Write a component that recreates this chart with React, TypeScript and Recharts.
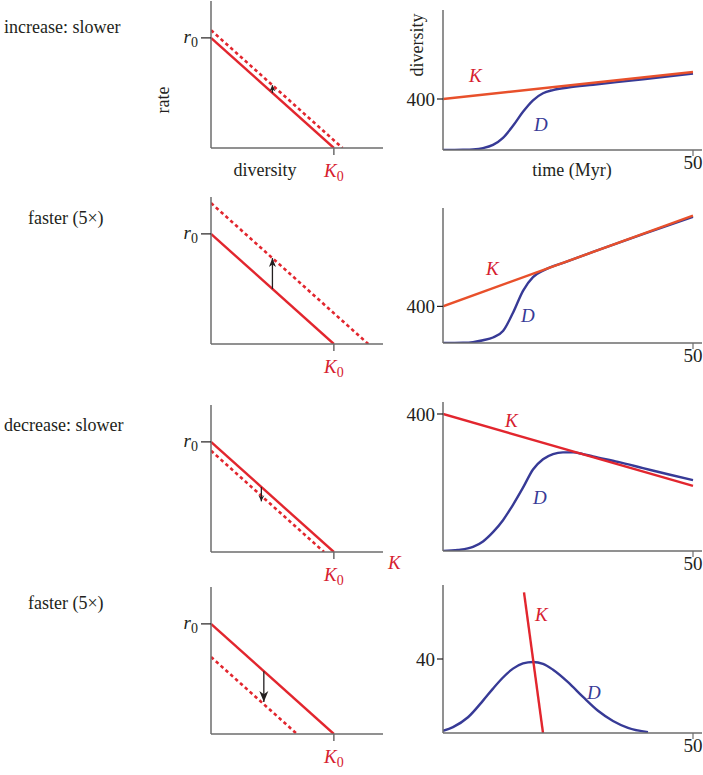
import { Line, LineChart, XAxis, YAxis } from 'recharts'

// left column: rate vs diversity (r0 = 1, K0 = 1)
const r0 = 1
const K0 = 1
const shifted = [1.07, 1.28, 0.92, 0.7]
const arrowAt = [0.5, 0.5, 0.41, 0.43]
const arrowFrom = [0.5, 0.5, 0.59, 0.57]
const arrowTo = [0.57, 0.78, 0.46, 0.29]
const scenarios = ['increase: slower', 'faster (5×)', 'decrease: slower', 'faster (5×)']

// right column: diversity through time
const kTimes = [[0, 50], [0, 50], [0, 50], [16.2, 20]]
const kValues = [[400, 612], [400, 1391], [400, 190], [76, 0]]
const yMax = [1098, 1475, 435, 80]
const yTick = [400, 400, 400, 40]

const dTime1 = [0, 4, 6, 8, 10, 12, 14, 16, 18, 20, 22, 25, 30, 40, 50]
const dValue1 = [0, 2, 5, 15, 40, 95, 190, 300, 390, 445, 470, 490, 512, 555, 600]
const dTime2 = [0, 4, 6, 8, 10, 12, 14, 16, 18, 20, 25, 30, 40, 50]
const dValue2 = [0, 3, 10, 30, 60, 130, 330, 570, 720, 790, 895, 995, 1190, 1378]
const dTime3 = [0, 3, 6, 8, 10, 12, 14, 16, 18, 20, 22, 24, 26, 28, 30, 35, 40, 45, 50]
const dValue3 = [0, 3, 12, 28, 55, 90, 135, 185, 238, 268, 283, 288, 288, 283, 276, 260, 242, 224, 207]
const dTime4 = [0, 2, 5, 8, 10, 12, 14, 16, 18, 20, 22, 25, 28, 31, 34, 37, 41]
const dValue4 = [1.2, 3.2, 8.5, 17.5, 24, 30, 34.8, 37.6, 38.4, 37.4, 34.2, 27.5, 19.5, 12, 6.5, 2.8, 0.5]
const dTimes = [dTime1, dTime2, dTime3, dTime4]
const dValues = [dValue1, dValue2, dValue3, dValue4]

const SERIF = "'Liberation Serif', 'DejaVu Serif', serif"
const INK = '#231f20'
const AXIS = '#6d6d6d'
const RED = '#e2262e'
const ORANGE = '#e8502b'
const BLUE = '#373a96'
const LABEL_RED = '#d6202f'

const leftTop = [1, 197, 405, 587]
const rightTop = [10, 208, 402, 585]
const rightHeight = [140, 135, 149, 148]
const headSize = [[3, 6], [3.5, 9], [3, 6], [4.5, 11]]

function Lbl({ x, y, color = INK, italic = false, size = 18, children }: any) {
  return (
    <div
      style={{
        position: 'absolute',
        left: x,
        top: y,
        transform: 'translate(0, -50%)',
        fontFamily: SERIF,
        fontSize: size,
        fontStyle: italic ? 'italic' : 'normal',
        color,
        lineHeight: 1,
        whiteSpace: 'nowrap',
      }}
    >
      {children}
    </div>
  )
}

function R0Tick(p: any) {
  return (
    <text x={p.x - 1} y={p.y + 5} textAnchor="end" fontFamily={SERIF} fontSize={19} fill={INK}>
      <tspan fontStyle="italic">r</tspan>
      <tspan dy={4} fontSize={14}>0</tspan>
    </text>
  )
}

function K0Tick(p: any) {
  return (
    <text x={p.x} y={p.y + 20} textAnchor="middle" fontFamily={SERIF} fontSize={19} fill={LABEL_RED}>
      <tspan fontStyle="italic">K</tspan>
      <tspan dy={4} fontSize={14}>0</tspan>
    </text>
  )
}

function RatePanel({ i }: { i: number }) {
  const top = leftTop[i]
  const solid = [{ d: 0, rate: r0 }, { d: K0, rate: 0 }]
  const dashed = [{ d: 0, rate: shifted[i] }, { d: shifted[i], rate: 0 }]
  const arrow = [{ d: arrowAt[i], rate: arrowFrom[i] }, { d: arrowAt[i], rate: arrowTo[i] }]
  const up = arrowTo[i] > arrowFrom[i]
  const [hw, hh] = headSize[i]
  const head = (p: any) => {
    if (p.index !== 1) return <g key={p.index} />
    const dir = up ? 1 : -1
    return (
      <path
        key={p.index}
        d={`M${p.cx},${p.cy} L${p.cx - hw},${p.cy + dir * hh} L${p.cx},${p.cy + dir * hh * 0.7} L${p.cx + hw},${p.cy + dir * hh} Z`}
        fill={INK}
      />
    )
  }
  return (
    <div style={{ position: 'absolute', left: 140, top: top - 10 }}>
      <LineChart width={250} height={197} margin={{ top: 10, right: 7, bottom: 10, left: 0 }}>
        <XAxis
          type="number"
          dataKey="d"
          height={30}
          domain={[0, 1.4]}
          ticks={[K0]}
          interval={0}
          allowDataOverflow
          tickSize={7}
          axisLine={{ stroke: AXIS, strokeWidth: 1.5 }}
          tickLine={{ stroke: AXIS, strokeWidth: 1.5 }}
          tick={<K0Tick />}
        />
        <YAxis
          type="number"
          width={71}
          domain={[0, 1.335]}
          ticks={[r0]}
          interval={0}
          allowDataOverflow
          tickSize={10}
          axisLine={{ stroke: AXIS, strokeWidth: 1.5 }}
          tickLine={{ stroke: INK, strokeWidth: 1.2 }}
          tick={<R0Tick />}
        />
        <Line data={dashed} dataKey="rate" type="linear" stroke={RED} strokeWidth={2.6} strokeDasharray="3.5 3" dot={false} isAnimationActive={false} />
        <Line data={solid} dataKey="rate" type="linear" stroke={RED} strokeWidth={2.4} dot={false} isAnimationActive={false} />
        <Line data={arrow} dataKey="rate" type="linear" stroke={INK} strokeWidth={1.3} dot={head} activeDot={false} isAnimationActive={false} />
      </LineChart>
    </div>
  )
}

function DiversityPanel({ i }: { i: number }) {
  const top = rightTop[i]
  const h = rightHeight[i]
  const k = kTimes[i].map((t, j) => ({ t, v: kValues[i][j] }))
  const d = dTimes[i].map((t, j) => ({ t, v: dValues[i][j] }))
  const tickStyle = { fill: INK, fontSize: 19, fontFamily: SERIF }
  return (
    <div style={{ position: 'absolute', left: 380, top: top - 5 }}>
      <LineChart width={323} height={h + 45} margin={{ top: 5, right: 1, bottom: 10, left: 0 }}>
        <XAxis
          type="number"
          dataKey="t"
          height={30}
          domain={[0, 51.8]}
          ticks={[50]}
          interval={0}
          allowDataOverflow
          tickSize={6}
          tickMargin={0}
          axisLine={{ stroke: AXIS, strokeWidth: 1.5 }}
          tickLine={{ stroke: AXIS, strokeWidth: 1.2 }}
          tick={tickStyle}
        />
        <YAxis
          type="number"
          width={63}
          domain={[0, yMax[i]]}
          ticks={[yTick[i]]}
          interval={0}
          allowDataOverflow
          tickSize={6}
          axisLine={{ stroke: AXIS, strokeWidth: 1.5 }}
          tickLine={{ stroke: INK, strokeWidth: 1.2 }}
          tick={tickStyle}
        />
        <Line data={d} dataKey="v" type="monotone" stroke={BLUE} strokeWidth={2.4} dot={false} isAnimationActive={false} />
        <Line data={k} dataKey="v" type="linear" stroke={i < 2 ? ORANGE : RED} strokeWidth={2.4} dot={false} isAnimationActive={false} />
      </LineChart>
    </div>
  )
}

const kLabelPos = [[469, 75], [486, 268], [505, 420], [535, 614]]
const dLabelPos = [[534, 124], [521, 315], [533, 497], [587, 692]]
const scenarioPos = [[4, 27], [28, 218], [4, 425], [28, 603]]

export default function App() {
  return (
    <div style={{ position: 'absolute', left: 0, top: 0, width: 703, height: 775, overflow: 'hidden', background: '#fff' }}>
      {scenarios.map((s, i) => (
        <Lbl key={s + i} x={scenarioPos[i][0]} y={scenarioPos[i][1]}>
          {s}
        </Lbl>
      ))}
      {[0, 1, 2, 3].map((i) => (
        <RatePanel key={'r' + i} i={i} />
      ))}
      {[0, 1, 2, 3].map((i) => (
        <DiversityPanel key={'d' + i} i={i} />
      ))}
      {kLabelPos.map(([x, y], i) => (
        <Lbl key={'k' + i} x={x} y={y} color={LABEL_RED} italic size={19}>
          K
        </Lbl>
      ))}
      {dLabelPos.map(([x, y], i) => (
        <Lbl key={'dl' + i} x={x} y={y} color={BLUE} italic size={19}>
          D
        </Lbl>
      ))}
      <Lbl x={388} y={562} color={LABEL_RED} italic size={19}>
        K
      </Lbl>
      {/* axis titles, first row only */}
      <div style={{ position: 'absolute', left: 163, top: 100, transform: 'translate(-50%, -50%) rotate(-90deg)', fontFamily: SERIF, fontSize: 18, color: INK, lineHeight: 1 }}>
        rate
      </div>
      <div style={{ position: 'absolute', left: 265, top: 170, transform: 'translate(-50%, -50%)', fontFamily: SERIF, fontSize: 18, color: INK, lineHeight: 1 }}>
        diversity
      </div>
      <div style={{ position: 'absolute', left: 417, top: 45, transform: 'translate(-50%, -50%) rotate(-90deg)', fontFamily: SERIF, fontSize: 18, color: INK, lineHeight: 1 }}>
        diversity
      </div>
      <div style={{ position: 'absolute', left: 572, top: 170, transform: 'translate(-50%, -50%)', fontFamily: SERIF, fontSize: 18, color: INK, lineHeight: 1, whiteSpace: 'nowrap' }}>
        time (Myr)
      </div>
    </div>
  )
}
